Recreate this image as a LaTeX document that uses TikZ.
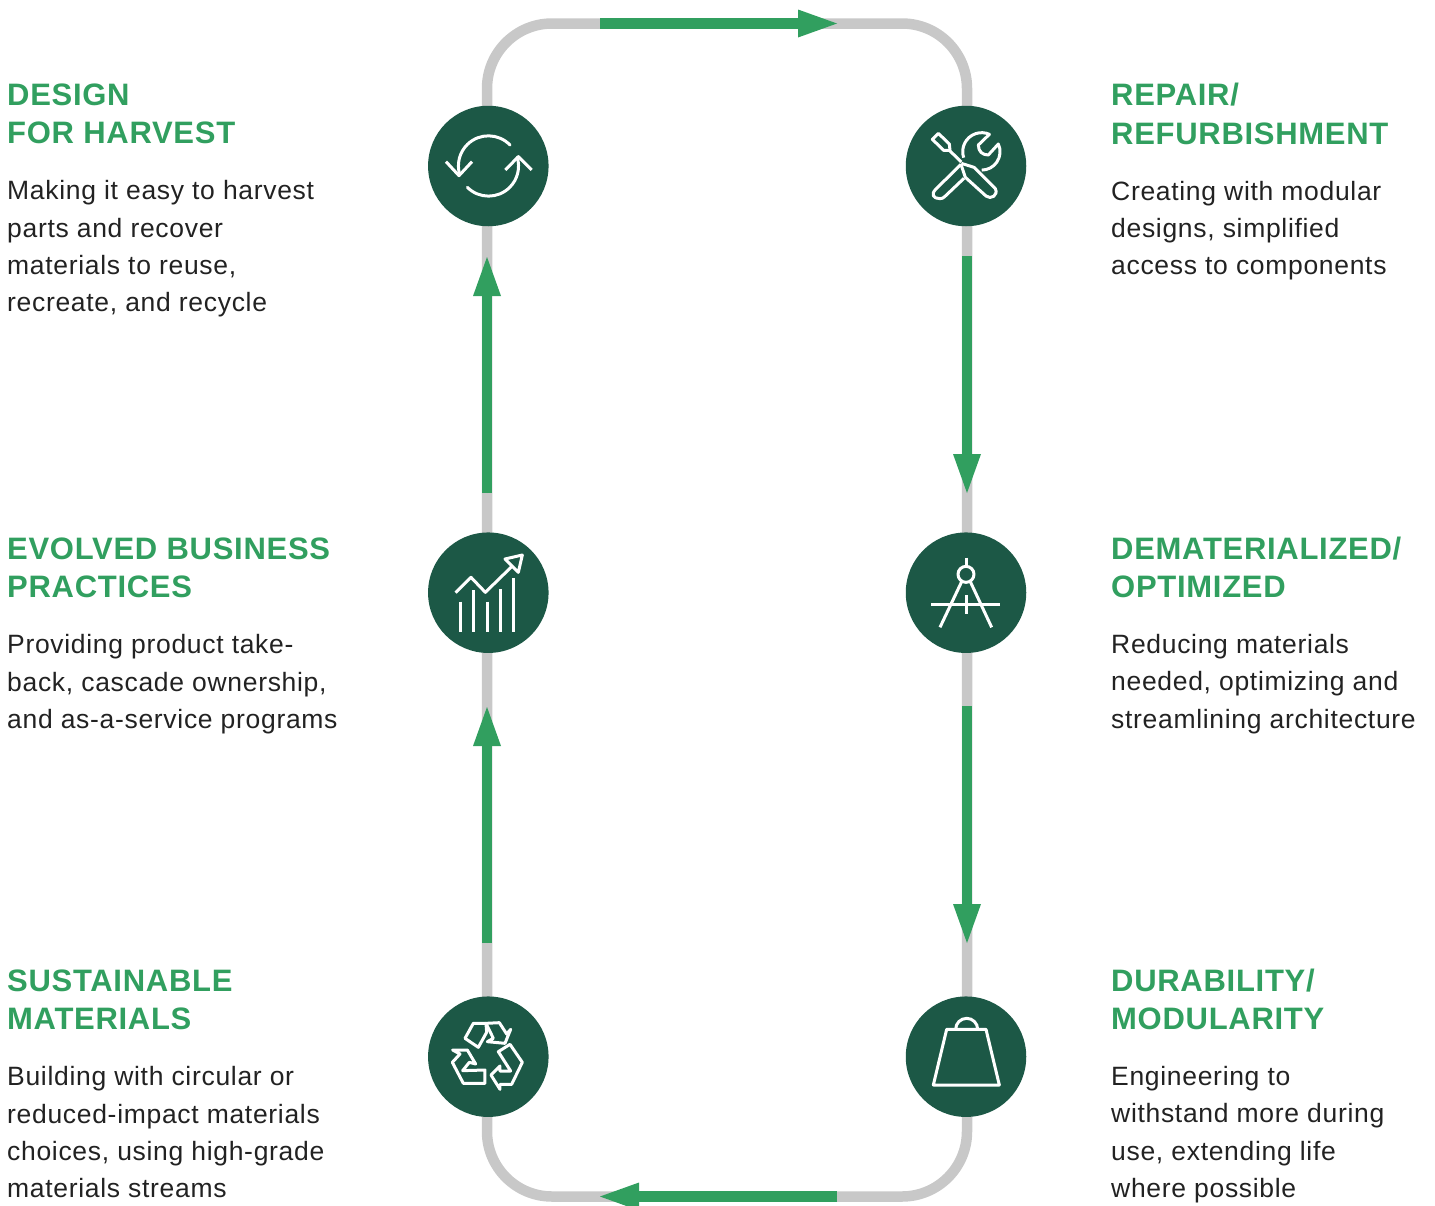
\documentclass[tikz,border=0pt]{standalone}
\usepackage{fontspec}
\setmainfont{Liberation Sans}
\newfontfamily\headfont[LetterSpace=2.3]{Liberation Sans}
\newfontfamily\bodyfont[LetterSpace=2.6]{Liberation Sans}
\usetikzlibrary{arrows.meta,positioning}
\definecolor{leaf}{HTML}{319F5F}
\definecolor{pine}{HTML}{1C5846}
\definecolor{rail}{HTML}{C8C8C8}
\definecolor{ink}{HTML}{222222}
\tikzset{
    >={Triangle[length=39pt,width=28pt,line width=0pt]},
    stage/.style={circle,fill=pine,minimum size=120.5pt,inner sep=0pt},
    track/.style={draw=rail,line width=10.5pt,rounded corners=65pt},
    flow/.style={->,draw=leaf,fill=leaf,line width=10.5pt},
    head/.style={anchor=north west,inner sep=0pt,align=left,text=leaf,font=\headfont\bfseries\fontsize{31}{38.5}\selectfont},
    body/.style={inner sep=0pt,align=left,text=ink,font=\bodyfont\fontsize{26.5}{37.3}\selectfont},
    icon/.style={white,line width=3pt,line join=round,scale=0.3333}
}
\begin{document}
\begin{tikzpicture}[x=1pt,y=-1pt]
    \useasboundingbox (0,0) rectangle (1435,1205);

    % the loop
    \coordinate (cornerNW) at (487,23.5);
    \coordinate (cornerNE) at (967,23.5);
    \coordinate (cornerSE) at (967,1196.5);
    \coordinate (cornerSW) at (487,1196.5);
    \draw[track] (487,600) -- (cornerNW) -- (cornerNE) -- (cornerSE) -- (cornerSW) -- (487,600);

    \coordinate (topA) at (600,23.5);
    \coordinate (topB) at (837,23.5);
    \coordinate (rightA) at (967,256);
    \coordinate (rightB) at (967,493);
    \coordinate (rightC) at (967,706);
    \coordinate (rightD) at (967,943);
    \coordinate (botA) at (837,1196.5);
    \coordinate (botB) at (600,1196.5);
    \coordinate (leftA) at (487,943);
    \coordinate (leftB) at (487,707);
    \coordinate (leftC) at (487,493);
    \coordinate (leftD) at (487,257);
    \draw[flow] (topA) -- (topB);
    \draw[flow] (rightA) -- (rightB);
    \draw[flow] (rightC) -- (rightD);
    \draw[flow] (botA) -- (botB);
    \draw[flow] (leftA) -- (leftB);
    \draw[flow] (leftC) -- (leftD);

    \node[stage] (harvest) at (488.3,166) {};
    \node[stage] (repair) at (966,166) {};
    \node[stage] (business) at (488.3,592.7) {};
    \node[stage] (dematerial) at (966,592.7) {};
    \node[stage] (materials) at (488.3,1056.7) {};
    \node[stage] (durability) at (966,1056.7) {};

    % icons, in the pixels of each crop
    \begin{scope}[shift={(410,90)},icon]
        \draw[line cap=round] (300,165) arc (-44:-197:90);
        \draw[line cap=round] (172,292) arc (135:-17:90);
        \draw (108,215) -- (147,257) -- (186,215);
        \draw (286,240) -- (325,200) -- (365,240);
    \end{scope}
    \begin{scope}[shift={(890,90)},icon]
        \draw (127,148) -- (145,130) -- (178,162) -- (180,181) -- (161,181) -- cycle;
        \draw (178,181) -- (214,216);
        \draw (213,223) -- (137,298) .. controls (122,313) and (130,326) .. (150,326) .. controls (156,326) and (160,324) .. (164,320) -- (222,265);
        \draw (213,223) -- (226,262) -- (288,318) .. controls (302,330) and (326,316) .. (316,296) -- (252,232) -- (214,220);
        \draw (221,203) arc (161.6:294:57) -- (265,165) .. controls (265,185) and (278,195) .. (295,195) -- (325,162) arc (-25:90:55);
    \end{scope}
    \begin{scope}[shift={(410,520)},icon]
        \draw (152,245) -- (152,335);
        \draw (192,210) -- (192,335);
        \draw (232,245) -- (232,335);
        \draw (272,208) -- (272,335);
        \draw (312,175) -- (312,335);
        \draw (137,218) -- (183,172) -- (226,217) -- (305,140);
        \draw (285,117) -- (337,105) -- (325,157) -- cycle;
    \end{scope}
    \begin{scope}[shift={(890,520)},icon]
        \draw (228,113) -- (228,140);
        \draw (228,163) circle[radius=24];
        \draw (215,185) -- (150,322);
        \draw (241,185) -- (305,322);
        \draw (123,254) -- (331,254);
        \draw (228,226) -- (228,282);
    \end{scope}
    \begin{scope}[shift={(410,985)},icon]
        \draw (190,115) -- (165,160) -- (205,187) -- (230,142) -- (228,115) -- cycle;
        \draw (228,115) -- (268,113) -- (290,147) -- (302,133) -- (285,175) -- (232,170) -- (250,160) -- cycle;
        \draw (128,195) -- (172,195) -- (197,237) -- (178,232) -- (158,257) -- (225,255) -- (225,295) -- (160,295) -- (127,232) -- (150,207) -- cycle;
        \draw (243,270) -- (270,243) -- (270,258) -- (302,258) -- (265,200) -- (300,178) -- (337,232) -- (305,298) -- (270,298) -- (270,313) -- cycle;
    \end{scope}
    \begin{scope}[shift={(890,985)},icon]
        \draw (170,133) -- (288,133) -- (328,300) -- (130,300) -- cycle;
        \draw (197,133) arc (180:360:33);
    \end{scope}

    % left column
    \node[head] (harvestHead) at (7,83.5) {DESIGN\\FOR HARVEST};
    \node[body,below right=36pt and 0pt of harvestHead.south west] (harvestBody) {Making it easy to harvest\\parts and recover\\materials to reuse,\\recreate, and recycle};
    \node[head] (businessHead) at (7,537.5) {EVOLVED BUSINESS\\PRACTICES};
    \node[body,below right=36pt and 0pt of businessHead.south west] (businessBody) {Providing product take-\\back, cascade ownership,\\and as-a-service programs};
    \node[head] (materialsHead) at (7,969.5) {SUSTAINABLE\\MATERIALS};
    \node[body,below right=36pt and 0pt of materialsHead.south west] (materialsBody) {Building with circular or\\reduced-impact materials\\choices, using high-grade\\materials streams};

    % right column
    \node[head] (repairHead) at (1111,83) {REPAIR/\\REFURBISHMENT};
    \node[body,below right=36pt and 0pt of repairHead.south west] (repairBody) {Creating with modular\\designs, simplified\\access to components};
    \node[head] (dematerialHead) at (1111,536.5) {DEMATERIALIZED/\\OPTIMIZED};
    \node[body,below right=36pt and 0pt of dematerialHead.south west] (dematerialBody) {Reducing materials\\needed, optimizing and\\streamlining architecture};
    \node[head] (durabilityHead) at (1111,968.5) {DURABILITY/\\MODULARITY};
    \node[body,below right=36pt and 0pt of durabilityHead.south west] (durabilityBody) {Engineering to\\withstand more during\\use, extending life\\where possible};
\end{tikzpicture}
\end{document}
